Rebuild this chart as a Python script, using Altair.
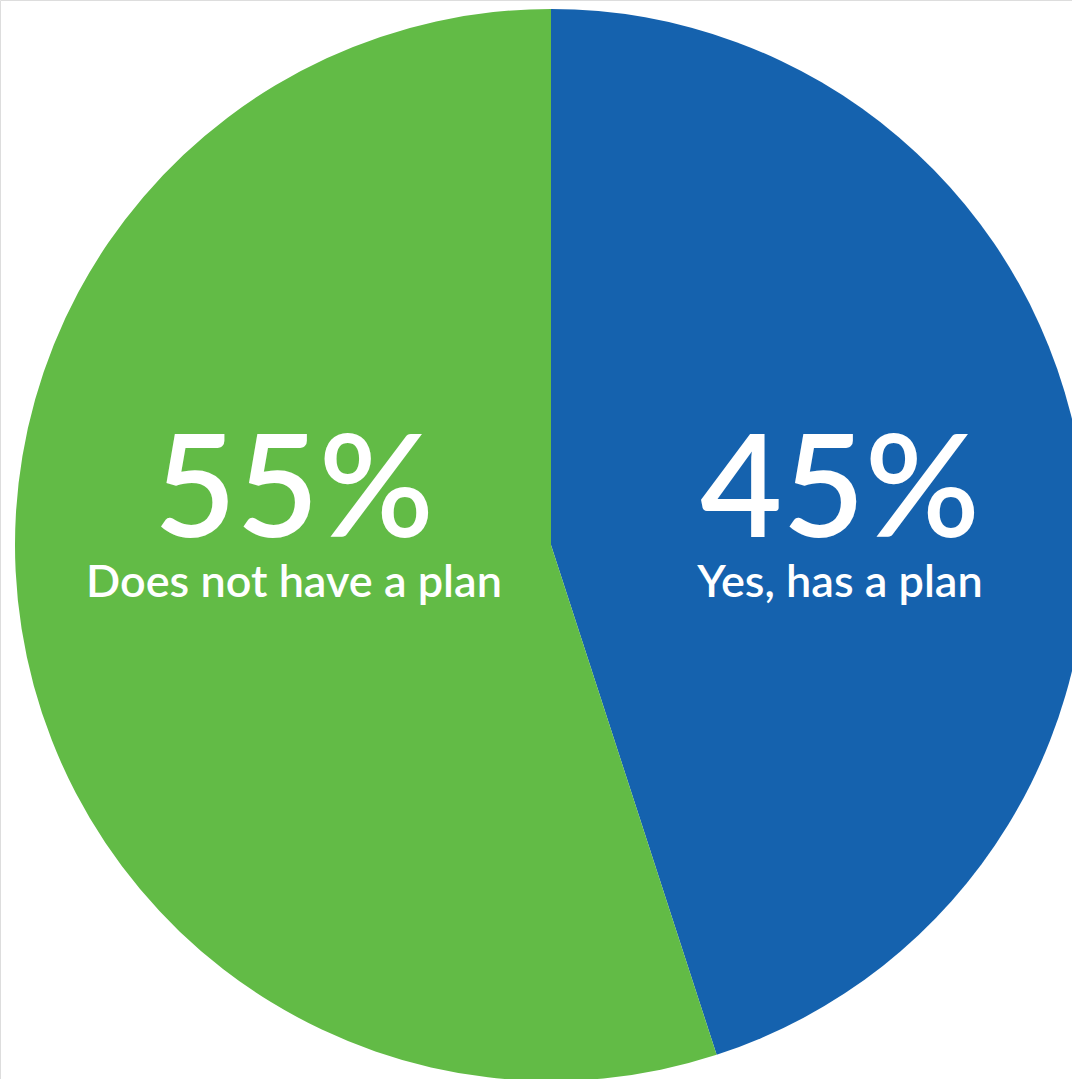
import altair as alt
import pandas as pd

categories = ["Yes, has a plan", "Does not have a plan"]
values = [45, 55]
pct_labels = ["45%", "55%"]
colors = ["#1562AE", "#62BB46"]

df = pd.DataFrame({
    "category": categories,
    "value": values,
    "pct": pct_labels,
    "order": list(range(len(categories))),
})

CX, CY, R = 551, 545, 536

pie = alt.Chart(df).mark_arc(stroke=None).encode(
    theta=alt.Theta("value:Q", stack=True),
    order=alt.Order("order:Q"),
    color=alt.Color("category:N", scale=alt.Scale(domain=categories, range=colors), legend=None),
    x=alt.value(CX),
    y=alt.value(CY),
    radius=alt.value(R),
)

label_x = {"Yes, has a plan": 840, "Does not have a plan": 294}

layers = [pie]
for cat in categories:
    sub = df[df["category"] == cat]
    big = alt.Chart(sub).mark_text(
        font="Lato", fontSize=142, fontWeight=600, color="white", align="center", baseline="alphabetic"
    ).encode(text="pct:N", x=alt.value(label_x[cat]), y=alt.value(537))
    small = alt.Chart(sub).mark_text(
        font="Lato", fontSize=45, fontWeight=600, color="white", align="center", baseline="alphabetic"
    ).encode(text="category:N", x=alt.value(label_x[cat]), y=alt.value(597))
    layers += [big, small]

chart = alt.layer(*layers).properties(
    width=1072, height=1079, autosize=alt.AutoSizeParams(type="none"), padding=0
).configure_view(stroke=None).configure(background="white")

chart.save("out.html", embed_options={"renderer": "svg", "actions": False})
